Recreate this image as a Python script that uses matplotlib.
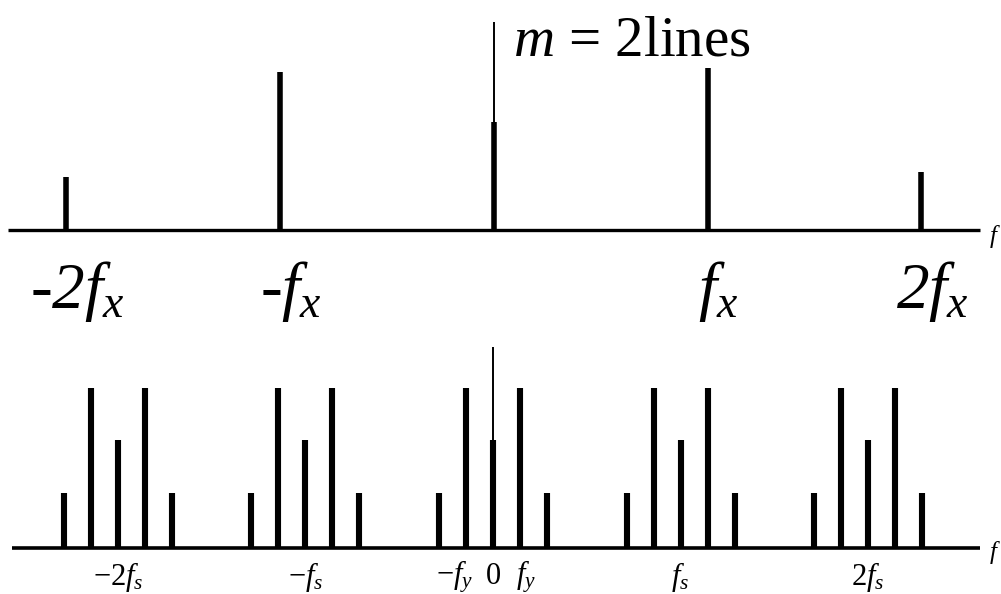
import matplotlib.pyplot as plt
import numpy as np

plt.rcParams["font.family"] = "Liberation Serif"
plt.rcParams["mathtext.fontset"] = "custom"
plt.rcParams["mathtext.rm"] = "Liberation Serif"
plt.rcParams["mathtext.it"] = "Liberation Serif:italic"

# spectrum of the continuous signal: harmonics of f_x
harm_order = [-2, -1, 0, 1, 2]
harm_amp = [0.53, 1.58, 1.08, 1.62, 0.58]
harm_labels = ["-2$f_x$", "-$f_x$", "", "$f_x$", "2$f_x$"]
dc_marker = 2.08

# spectrum after sampling: copies at k*f_s, lines at +-f_y, +-2f_y
fs = 1.0
fy = 0.144
copy_order = [-2, -1, 0, 1, 2]
line_order = [-2, -1, 0, 1, 2]
line_amp = [0.55, 1.60, 1.08, 1.60, 0.55]
copy_labels = [r"$-2f_s$", r"$-f_s$", "", r"$f_s$", r"$2f_s$"]
centre_marker = 2.01

fig = plt.figure(figsize=(10.01, 5.94), dpi=100)

# top panel
ax1 = fig.add_axes([0, 1 - 260 / 594, 1, 260 / 594])
ax1.set_xlim(-2.311, 2.372)
ax1.set_ylim(-0.30, 2.30)
ax1.axis("off")
ax1.plot([-2.274, 2.274], [0, 0], color="black", lw=2.4, solid_capstyle="butt")
ax1.vlines(harm_order, 0, harm_amp, color="black", lw=4.0)
ax1.vlines(0, 0, dc_marker, color="black", lw=1.4)
for k, lab in zip(harm_order, harm_labels):
    if lab:
        ax1.text(k + 0.05, -0.62, lab, ha="center", va="center",
                 fontsize=47, style="italic", clip_on=False)
ax1.text(0.089, 1.89, r"$m$ = 2lines", fontsize=41, ha="left", va="center")
ax1.text(2.372, -0.06, "$f$", fontsize=18, ha="right", va="center", clip_on=False)

# bottom panel
ax2 = fig.add_axes([0, 0, 1, 264 / 594])
ax2.set_xlim(-2.629, 2.709)
ax2.set_ylim(-0.46, 2.18)
ax2.axis("off")
ax2.plot([-2.565, 2.597], [0, 0], color="black", lw=2.6, solid_capstyle="butt")
for k in copy_order:
    xs = [k * fs + n * fy for n in line_order]
    ax2.vlines(xs, 0, line_amp, color="black", lw=4.4)
ax2.vlines(0, 0, centre_marker, color="black", lw=1.4)
for k, lab in zip(copy_order, copy_labels):
    if lab:
        ax2.text(k * fs, -0.29, lab, ha="center", va="center", fontsize=22)
ax2.text(-fy - 0.06, -0.29, r"$-f_y$", ha="center", va="center", fontsize=22)
ax2.text(0, -0.29, "0", ha="center", va="center", fontsize=22)
ax2.text(fy + 0.03, -0.29, r"$f_y$", ha="center", va="center", fontsize=22)
ax2.text(2.709, -0.05, "$f$", fontsize=18, ha="right", va="center", clip_on=False)

fig.savefig("out.png", dpi=100)
